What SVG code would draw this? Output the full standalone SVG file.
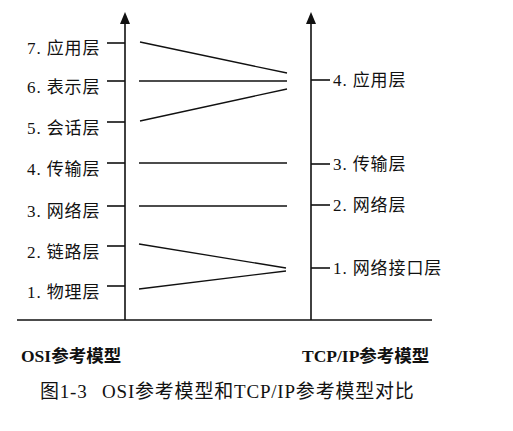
<svg xmlns="http://www.w3.org/2000/svg" width="513" height="431" viewBox="0 0 513 431">
<style>
.ax{stroke:#111;stroke-width:1.6;fill:none}
.ln{stroke:#111;stroke-width:1.3;fill:none}
.lbl{font-family:"Liberation Serif","Noto Sans CJK SC",serif;font-size:17px;fill:#111;letter-spacing:0.9px}
.bt{font-family:"Liberation Serif","Noto Sans CJK SC",serif;font-size:17.5px;font-weight:bold;fill:#111}
.cap{font-family:"Liberation Serif","Noto Sans CJK SC",serif;font-size:19px;fill:#111;letter-spacing:0.8px}
</style>
<rect width="513" height="431" fill="#fff"/>
<g id="axes">
<line class="ax" x1="17" y1="320" x2="432" y2="320"/>
<line class="ax" x1="125" y1="320" x2="125" y2="23"/>
<path d="M120,24 L125,12 L130,24 Z" fill="#111"/>
<line class="ax" x1="311" y1="320" x2="311" y2="23"/>
<path d="M306,24 L311,12 L316,24 Z" fill="#111"/>
</g>
<g id="osi">
<g id="osi7"><line class="ax" x1="107" y1="43" x2="125" y2="43"/><text class="lbl" x="27" y="54">7. 应用层</text></g>
<g id="osi6"><line class="ax" x1="107" y1="81" x2="125" y2="81"/><text class="lbl" x="27" y="93">6. 表示层</text></g>
<g id="osi5"><line class="ax" x1="107" y1="122" x2="125" y2="122"/><text class="lbl" x="27" y="134">5. 会话层</text></g>
<g id="osi4"><line class="ax" x1="107" y1="163" x2="125" y2="163"/><text class="lbl" x="27" y="175">4. 传输层</text></g>
<g id="osi3"><line class="ax" x1="107" y1="206" x2="125" y2="206"/><text class="lbl" x="27" y="217">3. 网络层</text></g>
<g id="osi2"><line class="ax" x1="107" y1="246" x2="125" y2="246"/><text class="lbl" x="27" y="258">2. 链路层</text></g>
<g id="osi1"><line class="ax" x1="107" y1="286" x2="125" y2="286"/><text class="lbl" x="27" y="298">1. 物理层</text></g>
</g>
<g id="tcp">
<g id="tcp4"><line class="ax" x1="311" y1="80" x2="330" y2="80"/><text class="lbl" x="333" y="86">4. 应用层</text></g>
<g id="tcp3"><line class="ax" x1="311" y1="164" x2="330" y2="164"/><text class="lbl" x="333" y="170">3. 传输层</text></g>
<g id="tcp2"><line class="ax" x1="311" y1="205" x2="330" y2="205"/><text class="lbl" x="333" y="211">2. 网络层</text></g>
<g id="tcp1"><line class="ax" x1="311" y1="268" x2="330" y2="268"/><text class="lbl" x="333" y="274">1. 网络接口层</text></g>
</g>
<g id="connectors">
<line class="ln" x1="140" y1="42" x2="287" y2="73"/>
<line class="ln" x1="139" y1="81" x2="287" y2="81"/>
<line class="ln" x1="140" y1="121" x2="287" y2="89"/>
<line class="ln" x1="139" y1="163" x2="287" y2="163"/>
<line class="ln" x1="139" y1="206" x2="287" y2="206"/>
<line class="ln" x1="139" y1="244" x2="286" y2="268"/>
<line class="ln" x1="139" y1="289" x2="286" y2="271"/>
</g>
<g id="titles">
<text class="bt" x="21" y="362">OSI参考模型</text>
<text class="bt" x="302" y="362">TCP/IP参考模型</text>
<text class="cap" x="40" y="398">图1-3<tspan x="102">OSI参考模型和TCP/IP参考模型对比</tspan></text>
</g>
</svg>
